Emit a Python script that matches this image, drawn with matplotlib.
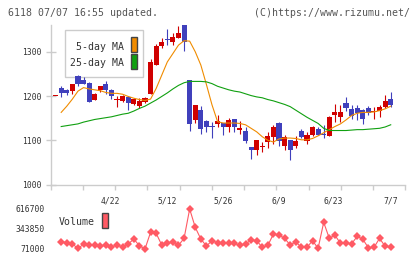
import numpy as np
import matplotlib
matplotlib.use("Agg")
import matplotlib.pyplot as plt
from matplotlib.patches import Rectangle

# daily candles, first one is the day before the visible window
opens = [1200, 1219, 1213, 1212, 1245, 1237, 1229, 1190, 1213, 1227, 1213,
         1191, 1189, 1198, 1183, 1177, 1186, 1205, 1271, 1314, 1329, 1321,
         1332, 1362, 1236, 1145, 1169, 1143, 1132, 1136, 1139, 1131, 1147,
         1124, 1120, 1084, 1079, 1084, 1096, 1107, 1139, 1088, 1100, 1088,
         1120, 1098, 1111, 1125, 1114, 1110, 1156, 1153, 1184, 1170, 1172,
         1168, 1172, 1163, 1167, 1175, 1193]
highs = [1200, 1222, 1216, 1227, 1247, 1244, 1232, 1206, 1222, 1235, 1215,
         1200, 1202, 1199, 1195, 1196, 1197, 1283, 1317, 1330, 1351, 1342,
         1358, 1366, 1237, 1180, 1177, 1145, 1141, 1158, 1140, 1150, 1148,
         1143, 1129, 1085, 1100, 1096, 1119, 1134, 1141, 1111, 1101, 1110,
         1125, 1119, 1133, 1131, 1134, 1154, 1181, 1179, 1197, 1180, 1179,
         1170, 1178, 1175, 1179, 1202, 1209]
lows = [1200, 1198, 1203, 1204, 1222, 1228, 1187, 1190, 1208, 1204, 1194,
        1175, 1186, 1169, 1179, 1174, 1185, 1205, 1271, 1308, 1315, 1315,
        1332, 1302, 1122, 1138, 1115, 1119, 1106, 1130, 1113, 1119, 1119,
        1115, 1094, 1058, 1066, 1073, 1083, 1091, 1088, 1079, 1056, 1083,
        1104, 1092, 1110, 1111, 1104, 1110, 1141, 1141, 1166, 1149, 1145,
        1136, 1156, 1149, 1153, 1174, 1175]
closes = [1200, 1207, 1207, 1227, 1228, 1228, 1187, 1204, 1222, 1213, 1200,
          1193, 1199, 1185, 1193, 1188, 1195, 1277, 1313, 1322, 1327, 1334,
          1342, 1323, 1136, 1179, 1126, 1130, 1130, 1143, 1130, 1145, 1130,
          1127, 1098, 1079, 1100, 1086, 1109, 1131, 1098, 1107, 1079, 1098,
          1107, 1113, 1131, 1113, 1112, 1152, 1164, 1164, 1173, 1155, 1162,
          1147, 1162, 1165, 1175, 1188, 1180]

ma5 = [1163, 1177, 1193, 1211, 1219, 1216, 1214, 1212, 1208, 1206,
       1206, 1204, 1199, 1195, 1192, 1190, 1193, 1217, 1247, 1277,
       1296, 1315, 1325, 1324, 1300, 1270, 1226, 1180, 1142, 1139,
       1139, 1139, 1138, 1135, 1127, 1119, 1108, 1100, 1096, 1103,
       1105, 1105, 1104, 1101, 1101, 1104, 1110, 1117, 1124, 1131,
       1137, 1146, 1156, 1161, 1163, 1163, 1164, 1167, 1171, 1177]
ma25 = [1131, 1133, 1135, 1137, 1141, 1144, 1147, 1149, 1151, 1153,
        1156, 1159, 1161, 1166, 1172, 1177, 1184, 1191, 1199, 1207,
        1216, 1224, 1230, 1233, 1233, 1233, 1232, 1228, 1222, 1218,
        1214, 1211, 1209, 1205, 1201, 1198, 1196, 1192, 1189, 1185,
        1181, 1176, 1168, 1160, 1152, 1145, 1138, 1127, 1122, 1122,
        1122, 1122, 1123, 1124, 1124, 1125, 1126, 1127, 1130, 1135]

volume = [171000, 157000, 139000, 80500, 135000, 121000, 121000, 112000,
          121000, 102000, 121000, 102000, 139000, 207000, 116000, 71000,
          298800, 285000, 125600, 157000, 162000, 121000, 216800, 616700,
          367000, 207000, 112000, 184000, 157000, 148800, 148800, 148800,
          120000, 135000, 198000, 184000, 94000, 120000, 275600, 262000,
          216800, 125600, 168000, 94000, 94000, 184000, 80500, 435000,
          216800, 260000, 148800, 148800, 143000, 243000, 205000, 87000,
          92000, 216800, 107000, 94000]

date_labels = ["4/22", "5/12", "5/26", "6/9", "6/23", "7/7"]
date_pos = [8.8, 19, 29, 39, 48.7, 59]
price_ticks = [1000, 1100, 1200, 1300]
vol_ticks = [71000, 343850, 616700]

UP = "#d00000"
DOWN = "#4040bc"
GRAY = "#cccccc"
TXT = "#333333"
VOLC = "#ff5a64"
W, H = 420, 259


def fx(px):
    return px / W


def fy(py):
    return 1 - py / H


fig = plt.figure(figsize=(4.2, 2.59), dpi=100)
mono = "DejaVu Sans Mono"

xmin, xmax = -1.88, 61.61
ax = fig.add_axes([fx(50.7), fy(184.5), fx(405.3 - 50.7), (184.5 - 25) / H])
ax.set_xlim(xmin, xmax)
ax.set_ylim(1000, 1360.5)

x = np.arange(-1, len(opens) - 1)
o = np.array(opens, float)
c = np.array(closes, float)
col = [UP if cc >= oo else DOWN for oo, cc in zip(o, c)]
ax.vlines(x, lows, highs, colors=col, linewidth=0.8, zorder=3)
bottom = np.minimum(o, c)
height = np.maximum(np.abs(c - o), 2.0)
ax.bar(x, height, bottom=bottom, width=0.92, color=col, linewidth=0, zorder=4)

xi = x[1:]
ax.plot(xi, ma5, color="#f08c00", linewidth=0.8, zorder=5)
ax.plot(xi, ma25, color="#10a010", linewidth=0.8, zorder=5)

for s in ["top", "right"]:
    ax.spines[s].set_visible(False)
for s in ["left", "bottom"]:
    ax.spines[s].set_color(GRAY)
    ax.spines[s].set_linewidth(1)

ax.set_yticks(price_ticks)
ax.set_yticklabels([str(t) for t in price_ticks], fontfamily=mono,
                   fontsize=5.8, color=TXT)
ax.tick_params(axis="y", direction="inout", length=6.5, width=1,
               color=GRAY, pad=3.5)
ax.set_xticks(date_pos)
ax.set_xticklabels(date_labels, fontfamily=mono, fontsize=5.8, color=TXT)
ax.set_xticks(np.linspace(xmin, xmax, 12), minor=True)
ax.tick_params(axis="x", which="major", length=0, pad=9)
ax.tick_params(axis="x", which="minor", direction="out", length=3.6,
               width=1, color=GRAY)

# legend box for moving averages
fig.patches.append(Rectangle((fx(65), fy(77.3)), fx(143.3 - 65), (77.3 - 30) / H,
                             transform=fig.transFigure, facecolor="white",
                             edgecolor=GRAY, linewidth=1, zorder=1))
ax.set_zorder(2)
ax.patch.set_alpha(0)
fig.text(fx(124.3), fy(46.7), "5-day MA", ha="right", va="center",
         fontfamily=mono, fontsize=7.1, color=TXT, zorder=10)
fig.text(fx(124.3), fy(62.7), "25-day MA", ha="right", va="center",
         fontfamily=mono, fontsize=7.1, color=TXT, zorder=10)
fig.patches.append(Rectangle((fx(131.3), fy(52.3)), fx(6), 15 / H,
                             transform=fig.transFigure, facecolor="#f08c00",
                             edgecolor="#444444", linewidth=1, zorder=10))
fig.patches.append(Rectangle((fx(131.3), fy(69)), fx(6), 15 / H,
                             transform=fig.transFigure, facecolor="#10a010",
                             edgecolor="#444444", linewidth=1, zorder=10))

# volume panel
vax = fig.add_axes([fx(50.7), fy(253), fx(405.3 - 50.7), 48 / H])
vax.set_xlim(xmin, xmax)
vax.set_ylim(16430, 671270)
vax.plot(xi, volume, color=VOLC, linewidth=0.8, marker="D", markersize=4.2,
         markeredgewidth=0, markerfacecolor=VOLC)
for s in vax.spines.values():
    s.set_visible(False)
vax.set_xticks([])
vax.set_yticks(vol_ticks)
vax.set_yticklabels([str(t) for t in vol_ticks], fontfamily=mono,
                    fontsize=5.8, color=TXT)
vax.tick_params(axis="y", length=0, pad=4.6)
vax.patch.set_alpha(0)

fig.text(fx(59), fy(221.7), "Volume", ha="left", va="center",
         fontfamily=mono, fontsize=7.1, color=TXT)
fig.patches.append(Rectangle((fx(101.7), fy(228.3)), fx(6), 15 / H,
                             transform=fig.transFigure, facecolor=VOLC,
                             edgecolor="#444444", linewidth=1, zorder=10))

fig.text(fx(8), fy(12.5), "6118 07/07 16:55 updated.", ha="left",
         va="center", fontfamily=mono, fontsize=7.1, color="#555555")
fig.text(fx(410), fy(12.5), "(C)https://www.rizumu.net/", ha="right",
         va="center", fontfamily=mono, fontsize=7.1, color="#555555")

fig.savefig("out.png", dpi=100)
